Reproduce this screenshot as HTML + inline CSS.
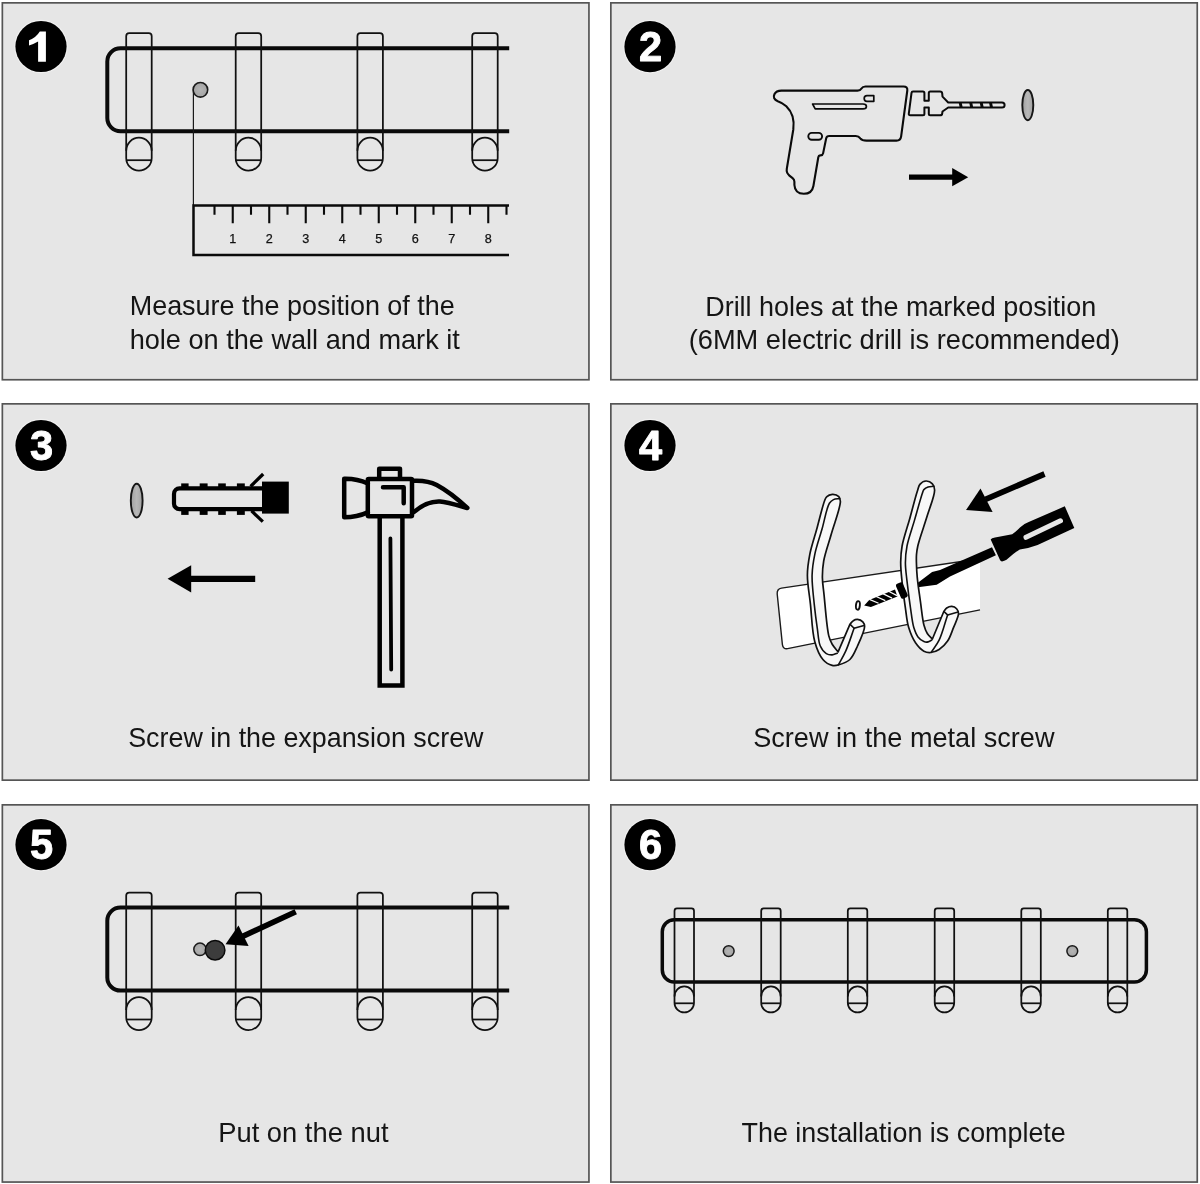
<!DOCTYPE html>
<html>
<head>
<meta charset="utf-8">
<title>Installation steps</title>
<style>
  html, body { margin: 0; padding: 0; background: #ffffff; }
  body { width: 1200px; height: 1184px; overflow: hidden; font-family: "Liberation Sans", sans-serif; }
  svg { display: block; filter: grayscale(1); }
  .cap { font-family: "Liberation Sans", sans-serif; font-size: 28px; fill: #151515; }
  .num { font-family: "Liberation Sans", sans-serif; font-size: 41.6px; font-weight: bold; fill: #ffffff; stroke: #ffffff; stroke-width: 0.9px; stroke-linejoin: round; text-anchor: middle; }
  .rul { font-family: "Liberation Sans", sans-serif; font-size: 12.6px; fill: #111; stroke: #111; stroke-width: 0.25px; text-anchor: middle; }
  .thin { fill: none; stroke: #111111; stroke-width: 1.75; }
  .bar { fill: none; stroke: #0a0a0a; stroke-width: 4; }
</style>
</head>
<body>
<svg width="1200" height="1184" viewBox="0 0 1200 1184">
  <defs>
    <!-- wide hook (panels 1 & 5): origin = top-left of hook -->
    <g id="hookA" class="thin">
      <path d="M0,3 Q0,0 3,0 H22.5 Q25.5,0 25.5,3 V124.75 A12.75,12.75 0 0 1 0,124.75 Z"/>
      <path d="M0,117.6 A12.75,13.1 0 0 1 25.5,117.6"/>
      <path d="M0.2,127 H25.3"/>
    </g>
    <!-- narrow hook (panel 6) -->
    <g id="hookB" class="thin">
      <path d="M0,2.5 Q0,0 2.5,0 H17 Q19.5,0 19.5,2.5 V94.25 A9.75,9.75 0 0 1 0,94.25 Z"/>
      <path d="M0,88 A9.75,10 0 0 1 19.5,88"/>
      <path d="M0.1,94.9 H19.4"/>
    </g>
    <radialGradient id="holeG" cx="50%" cy="50%" r="50%">
      <stop offset="0" stop-color="#b4b4b4"/>
      <stop offset="1" stop-color="#a4a4a4"/>
    </radialGradient>
    <linearGradient id="ellG" x1="0" y1="0" x2="1" y2="0">
      <stop offset="0" stop-color="#a0a0a0"/>
      <stop offset="0.5" stop-color="#b8b8b8"/>
      <stop offset="1" stop-color="#a0a0a0"/>
    </linearGradient>
  </defs>

  <rect x="0" y="0" width="1200" height="1184" fill="#ffffff"/>

  <!-- ================= PANELS ================= -->
  <g fill="#e6e6e6" stroke="#555555" stroke-width="1.7">
    <rect x="2.35" y="2.85" width="586.6" height="376.9"/>
    <rect x="610.85" y="2.85" width="586.4" height="376.9"/>
    <rect x="2.35" y="403.85" width="586.6" height="376.3"/>
    <rect x="610.85" y="403.85" width="586.4" height="376.3"/>
    <rect x="2.35" y="804.85" width="586.6" height="377.2"/>
    <rect x="610.85" y="804.85" width="586.4" height="377.2"/>
  </g>

  <!-- ================= NUMBER BADGES ================= -->
  <g id="badges">
    <circle cx="41" cy="46.5" r="26.7" fill="#f1f1f1"/><circle cx="41" cy="46.5" r="25.6" fill="#000"/>
    <circle cx="650" cy="46.7" r="26.7" fill="#f1f1f1"/><circle cx="650" cy="46.7" r="25.6" fill="#000"/>
    <circle cx="41" cy="445.5" r="26.7" fill="#f1f1f1"/><circle cx="41" cy="445.5" r="25.6" fill="#000"/>
    <circle cx="650" cy="445.5" r="26.7" fill="#f1f1f1"/><circle cx="650" cy="445.5" r="25.6" fill="#000"/>
    <circle cx="41" cy="844.7" r="26.7" fill="#f1f1f1"/><circle cx="41" cy="844.7" r="25.6" fill="#000"/>
    <circle cx="650" cy="844.7" r="26.7" fill="#f1f1f1"/><circle cx="650" cy="844.7" r="25.6" fill="#000"/>
    <path d="M45.9,31.4 L45.9,61.8 L38.1,61.8 L38.1,41.6 Q33.8,44.2 29,45.5 L29,40.2 Q36.2,37.4 39.8,31.4 Z" fill="#ffffff"/>
    <text class="num" x="650.5" y="60.9">2</text>
    <text class="num" x="41.5" y="460.1">3</text>
    <text class="num" x="650.5" y="460.1">4</text>
    <text class="num" x="41.5" y="859.1">5</text>
    <text class="num" x="650.5" y="859.1">6</text>
  </g>

  <!-- ================= CAPTIONS ================= -->
  <g id="captions">
    <text class="cap" x="129.7" y="315.4" textLength="325.1" lengthAdjust="spacingAndGlyphs">Measure the position of the</text>
    <text class="cap" x="129.7" y="348.7" textLength="330.1" lengthAdjust="spacingAndGlyphs">hole on the wall and mark it</text>
    <text class="cap" x="705.2" y="315.6" textLength="391.0" lengthAdjust="spacingAndGlyphs">Drill holes at the marked position</text>
    <text class="cap" x="688.7" y="349.4" textLength="431.1" lengthAdjust="spacingAndGlyphs">(6MM electric drill is recommended)</text>
    <text class="cap" x="128.2" y="746.7" textLength="355.3" lengthAdjust="spacingAndGlyphs">Screw in the expansion screw</text>
    <text class="cap" x="753.2" y="746.7" textLength="301.3" lengthAdjust="spacingAndGlyphs">Screw in the metal screw</text>
    <text class="cap" x="218.2" y="1141.7" textLength="170.3" lengthAdjust="spacingAndGlyphs">Put on the nut</text>
    <text class="cap" x="741.5" y="1141.7" textLength="324.3" lengthAdjust="spacingAndGlyphs">The installation is complete</text>
  </g>

  <!-- ================= PANEL 1 ================= -->
  <g id="p1">
    <path class="bar" d="M509.2,48.2 H120.5 A13.2,13.2 0 0 0 107.3,61.4 V118.1 A13.2,13.2 0 0 0 120.5,131.3 H509.2"/>
    <use href="#hookA" x="126.2" y="33.2"/>
    <use href="#hookA" x="235.7" y="33.2"/>
    <use href="#hookA" x="357.4" y="33.2"/>
    <use href="#hookA" x="472.2" y="33.2"/>
    <path d="M193.4,89.5 V205" fill="none" stroke="#1a1a1a" stroke-width="1.2"/>
    <circle cx="200.4" cy="89.8" r="7.3" fill="url(#holeG)" stroke="#1a1a1a" stroke-width="1.6"/>
    <path d="M509,205.5 H193.5 V255 H509" fill="none" stroke="#0a0a0a" stroke-width="2.5"/>
    <path d="M214.50,205.5 V214.8 M232.75,205.5 V223.3 M251.00,205.5 V214.8 M269.25,205.5 V223.3 M287.50,205.5 V214.8 M305.75,205.5 V223.3 M324.00,205.5 V214.8 M342.25,205.5 V223.3 M360.50,205.5 V214.8 M378.75,205.5 V223.3 M397.00,205.5 V214.8 M415.25,205.5 V223.3 M433.50,205.5 V214.8 M451.75,205.5 V223.3 M470.00,205.5 V214.8 M488.25,205.5 V223.3 M506.50,205.5 V214.8" fill="none" stroke="#0a0a0a" stroke-width="2.1"/>
    <text class="rul" x="232.75" y="242.6">1</text><text class="rul" x="269.25" y="242.6">2</text><text class="rul" x="305.75" y="242.6">3</text><text class="rul" x="342.25" y="242.6">4</text><text class="rul" x="378.75" y="242.6">5</text><text class="rul" x="415.25" y="242.6">6</text><text class="rul" x="451.75" y="242.6">7</text><text class="rul" x="488.25" y="242.6">8</text>
  </g>

  <!-- ================= PANEL 2 ================= -->
  <g id="p2">
    <!-- drill body -->
    <path d="M781.5,90.6 L857.5,90.6 Q860.3,90.6 861.5,88.5 Q862.7,86.5 865.5,86.5 L903.5,86.5 Q907.8,86.5 907.3,90.5
             L901.1,136.6 Q900.5,140.6 896.5,140.6 L866.5,140.6 Q862,140.6 860.3,138.3 Q858.7,136 855.8,136
             L829.3,136 Q826.7,136 826.2,138.3 L823.1,153.4 Q822.7,155.3 820.7,155.4 L820.2,155.4 Q818.6,155.5 818.3,157.2
             L813.4,186 Q812,193.8 803.8,193.8 Q795,193.8 794.4,185 L794.4,181.8 Q794.4,179.6 792.6,178.2
             L789.4,175.6 Q786.1,172.8 786.8,168.8 L793.3,129.5 Q795.3,115 786.3,106.3 Q782.5,102.8 777.8,101.2
             Q772.3,98.8 774.4,94.3 Q776.1,90.6 781.5,90.6 Z"
          fill="none" stroke="#0a0a0a" stroke-width="2.1" stroke-linejoin="round"/>
    <path d="M812.6,104 L863,104 Q866.4,104 866.4,106.4 Q866.4,108.8 863,108.8 L815.2,108.8 Z" fill="none" stroke="#0a0a0a" stroke-width="1.7" stroke-linejoin="round"/>
    <path d="M867,95.7 L873.8,95.7 L873.8,101.3 L867,101.3 Q864.2,101.3 864.2,98.5 Q864.2,95.7 867,95.7 Z" fill="none" stroke="#0a0a0a" stroke-width="1.7" stroke-linejoin="round"/>
    <rect x="808.3" y="132.9" width="13.8" height="6.9" rx="3.45" ry="3.45" fill="none" stroke="#0a0a0a" stroke-width="1.9"/>
    <!-- chuck + bit -->
    <path d="M913,91.6 L922.9,91.6 Q924.4,91.6 924.4,93.1 L924.4,100.7 L928.8,100.7 L928.8,93.1 Q928.8,91.6 930.3,91.6
             L940,91.6 Q942,91.6 942.2,93.4 L942.5,96.6 L948.2,102.5 L1002,102.5 Q1004.6,102.5 1004.6,105 Q1004.6,107.5 1002,107.5
             L948.2,107.5 L942.5,111.5 L942.2,113.6 Q942,115.3 940,115.3 L930.3,115.3 Q928.8,115.3 928.8,113.8
             L928.8,107.4 L924.4,107.4 L924.4,113.8 Q924.4,115.3 922.9,115.3 L910.3,115.3 Q908.6,115.3 908.8,113.6
             L911.5,93 Q911.7,91.6 913,91.6 Z"
          fill="none" stroke="#0a0a0a" stroke-width="2" stroke-linejoin="round"/>
    <path d="M958.6,102 L961.6,102 L962.8,108 L959.8,108 Z M969.1,102 L972.1,102 L973.3,108 L970.3,108 Z M979.6,102 L982.6,102 L983.8,108 L980.8,108 Z M988.9,102 L991.9,102 L993.1,108 L990.1,108 Z" fill="#0a0a0a"/>
    <!-- hole -->
    <ellipse cx="1027.8" cy="105.1" rx="5.5" ry="15.1" fill="url(#ellG)" stroke="#161616" stroke-width="1.9"/>
    <!-- arrow -->
    <path d="M909,177.2 H953" fill="none" stroke="#000" stroke-width="5.2"/>
    <path d="M952.2,168.1 L968.2,177.2 L952.2,186.3 Z" fill="#000"/>
  </g>

  <!-- ================= PANEL 3 ================= -->
  <g id="p3">
    <ellipse cx="136.7" cy="500.6" rx="5.9" ry="16.9" fill="url(#ellG)" stroke="#161616" stroke-width="1.9"/>
    <!-- wall plug -->
    <path d="M263,488.4 H179.5 A5.5,5.5 0 0 0 174,493.9 V503.7 A5.5,5.5 0 0 0 179.5,509.2 H263" fill="none" stroke="#000" stroke-width="4.2"/>
    <rect x="181.2" y="483.4" width="7.4" height="5" fill="#000"/><rect x="181.2" y="510" width="7.4" height="4.9" fill="#000"/><rect x="199.7" y="483.4" width="7.9" height="5" fill="#000"/><rect x="199.7" y="510" width="7.9" height="4.9" fill="#000"/><rect x="218.2" y="483.4" width="7.6" height="5" fill="#000"/><rect x="218.2" y="510" width="7.6" height="4.9" fill="#000"/><rect x="236.9" y="483.4" width="7.9" height="5" fill="#000"/><rect x="236.9" y="510" width="7.9" height="4.9" fill="#000"/>
    <rect x="262" y="481.6" width="26.8" height="32" fill="#000"/>
    <path d="M250.6,486.4 L263.2,474" fill="none" stroke="#000" stroke-width="3.3"/>
    <path d="M251.5,510.8 L262.8,521.6" fill="none" stroke="#000" stroke-width="3.3"/>
    <!-- arrow -->
    <path d="M255.2,578.8 H190" fill="none" stroke="#000" stroke-width="6.3"/>
    <path d="M167.6,578.8 L191.2,565.3 L191.2,592.4 Z" fill="#000"/>
    <!-- hammer -->
    <g fill="none" stroke="#000" stroke-width="4.5" stroke-linejoin="round" stroke-linecap="round">
      <path d="M379.2,478 V468.8 H400 V478"/>
      <rect x="367.8" y="479.1" width="44.2" height="37.2" rx="1" ry="1"/>
      <path d="M367.8,483.5 Q357,478.5 344.2,478.8 V517.3 Q357,517.3 367.8,512.4"/>
      <path d="M414,480.7 C424,480.3 432,482.5 436.7,485 C447,490.5 457.5,498.8 467.3,508 C455,504.5 447,502 440,501.5 C430,501 421,506 414.2,511.8"/>
      <path d="M383,487.3 H403.7 V503.3"/>
      <path d="M379.7,517 V685.6 H402.4 V517" stroke-linecap="butt" stroke-linejoin="miter"/>
      <path d="M390.4,538.4 L391.2,669.6" stroke-width="3.8"/>
    </g>
  </g>

  <!-- ================= PANEL 4 ================= -->
  <g id="p4">
    <!-- plate -->
    <path d="M781.5,588.1 L980,558.7 L980,609.9 L787.6,648.6 Q783,649.4 782.4,644.6 L777.2,594 Q776.8,588.9 781.5,588.1 Z" fill="#ffffff"/>
    <path d="M980,558.7 L781.5,588.1 Q776.8,588.9 777.2,594 L782.4,644.6 Q783,649.4 787.6,648.6 L980,609.9" fill="none" stroke="#1a1a1a" stroke-width="1.4"/>
    <!-- hole -->
    <ellipse cx="857.9" cy="605.4" rx="1.95" ry="4.3" transform="rotate(6 857.9 605.4)" fill="#fff" stroke="#111" stroke-width="1.9"/>
    <!-- screw thread -->
    <path d="M864.2,605.5 L869.2,599.9 L895,589.4 L897.4,596.6 L870.9,606.9 Z" fill="#000"/>
    <path d="M869.4,599.4 L878.6,603.2" stroke="#ffffff" stroke-width="1.2" fill="none"/><path d="M876.2,596.5 L885.3,600.6" stroke="#ffffff" stroke-width="1.2" fill="none"/><path d="M882.8,593.6 L892,598.1" stroke="#ffffff" stroke-width="1.2" fill="none"/><path d="M888.6,591.3 L897,595.6" stroke="#ffffff" stroke-width="1.2" fill="none"/>
    <!-- screwdriver: blade + shaft -->
    <path d="M917.9,582.8 L932.1,572 L940,569.9 L992,547.3 L995.9,555.2 L950,576.4 L936.7,584.7 L917.9,587.2 Z" fill="#000"/>
    <!-- handle -->
    <path d="M990.7,539.4 Q991.5,538.2 995,537.6 L1012.2,534.2 Q1016,531.5 1020,527.5 Q1024.5,523.5 1028.7,522.1 L1064.8,506.3
             L1074.3,527.9 L1037.6,545 Q1030,548 1019.8,549.4 Q1014,553 1008,558.6 Q1006.5,560.2 1005,560.4 L1002,561.4 Q1000.6,561.4 1000,560 Z" fill="#000"/>
    <path d="M1026,537.3 L1060.5,520.8" fill="none" stroke="#e6e6e6" stroke-width="5" stroke-linecap="round"/>
    <!-- hooks -->
    <path d="M838.1,651.9 C836.1,649.4 833.8,647.0 832.2,644.3 C830.7,641.7 829.8,639.8 828.8,635.9 C826.7,627.5 825.2,606.0 824.1,595.3 C823.4,588.3 822.5,583.7 822.4,578.0 C822.3,572.3 822.6,567.3 823.7,561.0 C825.1,553.0 828.7,543.4 831.3,534.0 C834.2,523.7 840.5,507.5 840.4,501.5 C840.3,499.1 839.9,497.8 838.8,496.6 C837.5,495.2 834.5,494.2 832.4,494.3 C830.4,494.4 827.9,495.5 826.6,496.8 C825.4,497.9 825.2,499.1 824.4,501.2 C822.5,506.2 819.6,518.7 817.2,527.5 C814.8,536.4 811.4,545.9 809.8,554.3 C808.4,561.6 807.4,567.5 807.4,575.0 C807.3,583.8 809.3,593.5 810.4,603.8 C811.7,615.6 812.0,631.7 814.8,641.8 C816.8,649.0 819.4,655.5 822.9,659.5 C825.5,662.5 829.2,664.7 832.2,665.4 C834.5,666.0 836.5,665.5 838.9,664.8 C842.2,663.9 846.9,662.3 849.9,659.5 C853.3,656.3 855.2,651.0 857.5,646.0 C860.2,640.2 864.7,630.7 864.6,626.5 C864.6,624.4 863.9,623.1 862.8,621.9 C861.6,620.6 859.2,619.5 857.5,619.4 C856.0,619.3 854.5,619.9 853.3,620.7 C852.0,621.5 851.0,623.1 849.9,624.3 Z" fill="#f8f8f8" stroke="#111" stroke-width="1.7" stroke-linejoin="round"/>
    <path d="M839.6,498.6 C837.6,498.9 835.2,498.8 833.5,499.6 C831.9,500.4 830.7,501.2 829.4,503.2 C826.6,507.7 824.5,520.3 822.1,528.8 C819.7,537.3 816.5,546.2 814.8,554.3 C813.3,561.5 812.3,567.5 812.1,575.0 C811.8,583.8 813.3,594.5 814.2,603.8 C815.1,612.5 816.3,621.5 817.4,629.1 C818.3,635.3 818.4,641.7 820.3,646.0 C821.8,649.3 824.0,652.2 826.3,653.6 C828.1,654.7 830.3,655.0 832.2,654.9 C833.9,654.8 835.5,653.8 837.2,653.2" fill="none" stroke="#111" stroke-width="1.6" stroke-linecap="round"/>
    <path d="M838.3,664.9 C840.8,660.3 843.3,656.4 845.7,651.1 C848.7,644.5 851.3,635.9 854.1,628.3" fill="none" stroke="#111" stroke-width="1.6" stroke-linecap="round"/>
    <path d="M850.1,624.4 L854.1,628.3 L864,625.4" fill="none" stroke="#111" stroke-width="1.6" stroke-linejoin="round"/>

    <path d="M932.4,639.0 C930.7,637.2 928.7,635.7 927.3,633.5 C925.8,631.1 924.9,628.6 923.9,625.0 C922.4,619.3 921.6,610.0 920.5,602.2 C919.4,594.0 917.8,583.8 917.2,576.9 C916.8,572.2 916.6,568.8 916.5,565.0 C916.4,561.4 916.2,557.8 916.5,554.5 C916.7,551.5 917.0,549.7 917.8,546.0 C919.4,538.9 924.4,525.3 927.3,515.6 C930.0,506.7 934.8,495.6 934.6,490.0 C934.5,487.2 933.8,485.4 932.4,483.9 C931.0,482.3 928.1,480.9 926.0,481.0 C923.9,481.1 921.3,482.7 919.9,484.4 C918.5,486.1 918.4,488.0 917.4,491.0 C915.4,497.0 912.3,509.3 909.8,518.5 C907.2,527.7 903.6,538.0 902.1,546.0 C901.0,552.0 900.8,556.4 900.7,562.0 C900.6,568.1 901.3,574.2 902.0,581.1 C902.8,589.2 904.1,599.1 905.3,607.3 C906.4,614.5 906.8,621.4 908.7,627.6 C910.4,633.1 912.7,638.7 915.5,642.8 C917.9,646.3 921.0,649.7 923.9,651.2 C926.1,652.4 928.3,652.7 930.7,652.5 C933.4,652.3 936.5,651.2 939.1,649.5 C942.2,647.6 945.3,644.5 947.6,641.1 C950.2,637.3 951.7,632.2 953.5,627.6 C955.3,623.0 958.5,617.1 958.5,613.6 C958.5,611.5 957.7,609.9 956.6,608.7 C955.5,607.5 953.4,606.5 951.8,606.4 C950.1,606.3 948.1,607.1 946.7,608.0 C945.4,608.8 944.8,610.3 943.8,611.5 Z" fill="#f8f8f8" stroke="#111" stroke-width="1.7" stroke-linejoin="round"/>
    <path d="M933.8,486.2 C931.9,486.5 929.8,486.5 928.1,487.1 C926.5,487.7 924.9,488.5 923.9,489.6 C923.0,490.7 922.9,491.8 922.2,493.8 C920.5,498.8 917.1,511.2 914.6,519.9 C912.1,528.6 908.5,538.2 907.0,546.0 C905.8,552.2 905.4,557.2 905.4,563.0 C905.4,568.9 906.3,574.5 907.0,581.1 C907.9,589.0 909.2,599.1 910.4,607.3 C911.5,614.5 912.2,622.2 913.8,627.6 C915.0,631.4 916.1,634.5 918.0,636.9 C919.6,639.0 922.0,640.7 923.9,641.5 C925.3,642.1 926.8,642.2 928.1,641.9 C929.4,641.6 930.6,640.6 931.8,640.0" fill="none" stroke="#111" stroke-width="1.6" stroke-linecap="round"/>
    <path d="M931.3,652.3 C933.9,648.3 936.7,645.1 939.1,640.2 C942.3,633.5 944.8,623.3 947.6,614.9" fill="none" stroke="#111" stroke-width="1.6" stroke-linecap="round"/>
    <path d="M944,611.6 L947.6,614.9 L958.1,612" fill="none" stroke="#111" stroke-width="1.6" stroke-linejoin="round"/>

    <!-- screw head -->
    <rect x="898.2" y="582.5" width="7.3" height="16" rx="2" ry="2" transform="rotate(-23.5 901.85 590.5)" fill="#000"/>
    <!-- arrow -->
    <path d="M1044.5,474 L985.5,499.4" fill="none" stroke="#000" stroke-width="5.8"/>
    <path d="M966,510.1 L980.5,488.6 L992.6,512 Z" fill="#000"/>
  </g>

  <!-- ================= PANEL 5 ================= -->
  <g id="p5">
    <path class="bar" d="M509.2,907.5 H120.5 A13.2,13.2 0 0 0 107.3,920.7 V977.4 A13.2,13.2 0 0 0 120.5,990.6 H509.2"/>
    <use href="#hookA" x="126.2" y="892.5"/>
    <use href="#hookA" x="235.7" y="892.5"/>
    <use href="#hookA" x="357.4" y="892.5"/>
    <use href="#hookA" x="472.2" y="892.5"/>
    <circle cx="200" cy="949.3" r="6.2" fill="url(#holeG)" stroke="#1a1a1a" stroke-width="1.5"/>
    <circle cx="215.1" cy="950.2" r="9.8" fill="#3c3c3c" stroke="#0a0a0a" stroke-width="1.5"/>
    <path d="M295.75,911.7 L240,937.6" fill="none" stroke="#000" stroke-width="5.6"/>
    <path d="M225.5,944.3 L238.5,925.4 L248.6,946.1 Z" fill="#000"/>
  </g>

  <!-- ================= PANEL 6 ================= -->
  <g id="p6">
    <rect class="bar" style="stroke-width:3.5" x="662.3" y="919.7" width="484.1" height="62.4" rx="12" ry="12"/>
    <use href="#hookB" x="674.5" y="908.4"/>
    <use href="#hookB" x="761.2" y="908.4"/>
    <use href="#hookB" x="847.8" y="908.4"/>
    <use href="#hookB" x="934.7" y="908.4"/>
    <use href="#hookB" x="1021.3" y="908.4"/>
    <use href="#hookB" x="1107.8" y="908.4"/>
    <circle cx="728.7" cy="951.1" r="5.4" fill="url(#holeG)" stroke="#1a1a1a" stroke-width="1.5"/>
    <circle cx="1072.3" cy="951.1" r="5.4" fill="url(#holeG)" stroke="#1a1a1a" stroke-width="1.5"/>
  </g>
</svg>
</body>
</html>
